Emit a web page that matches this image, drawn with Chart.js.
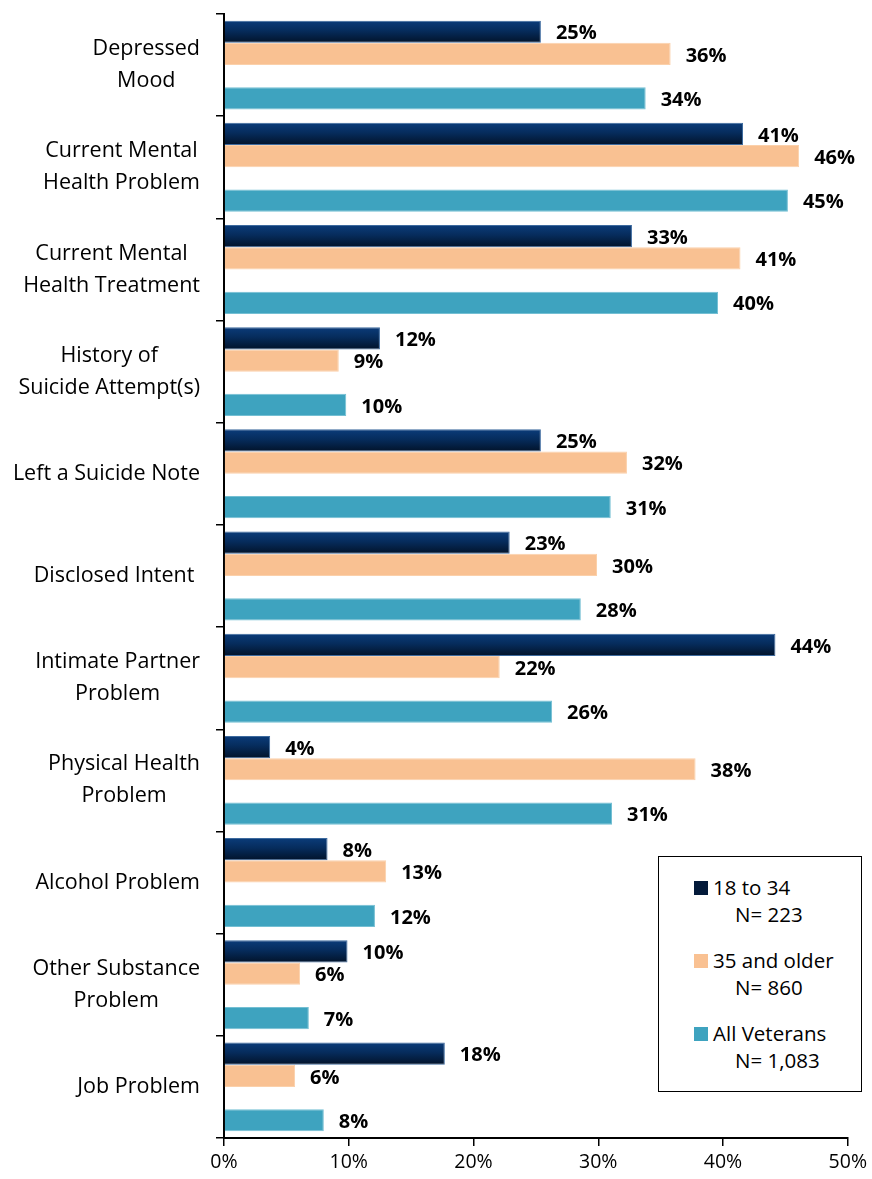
<!DOCTYPE html>
<html>
<head>
<meta charset="utf-8">
<script src="https://cdn.jsdelivr.net/npm/chart.js@4.4.1/dist/chart.umd.min.js"></script>
<style>
  body { margin: 0; background: #fff; }
  #wrap { position: relative; width: 872px; height: 1179px; font-family: 'Open Sans', sans-serif; }
  #legend { position: absolute; left: 658px; top: 856px; width: 202px; height: 234px;
            border: 1.5px solid #000; background: #fff; }
  .item { position: absolute; left: 35px; font-size: 20.5px; line-height: 27px; color: #000; white-space: nowrap; }
  .sw { position: absolute; left: 0; top: 7px; width: 14px; height: 14px; }
  .nm { margin-left: 19px; }
  .n { margin-left: 41px; }
</style>
</head>
<body>
<div id="wrap">
  <canvas id="chart" width="872" height="1179"></canvas>
  <div id="legend"></div>
</div>
<script>
const categories = [
    ['Depressed', 'Mood'],
    ['Current Mental', 'Health Problem'],
    ['Current Mental', 'Health Treatment'],
    ['History of', 'Suicide Attempt(s)'],
    ['Left a Suicide Note'],
    ['Disclosed Intent '],
    ['Intimate Partner', 'Problem'],
    ['Physical Health', 'Problem'],
    ['Alcohol Problem'],
    ['Other Substance', 'Problem'],
    ['Job Problem']
];

const young   = [25.4, 41.6, 32.7, 12.5, 25.4, 22.9, 44.2, 3.7, 8.3, 9.9, 17.7];
const older   = [35.8, 46.1, 41.4, 9.2, 32.3, 29.9, 22.1, 37.8, 13.0, 6.1, 5.7];
const allVets = [33.8, 45.2, 39.6, 9.8, 31.0, 28.6, 26.3, 31.1, 12.1, 6.8, 8.0];

const youngLbl = ['25%', '41%', '33%', '12%', '25%', '23%', '44%', '4%', '8%', '10%', '18%'];
const olderLbl = ['36%', '46%', '41%', '9%', '32%', '30%', '22%', '38%', '13%', '6%', '6%'];
const allLbl   = ['34%', '45%', '40%', '10%', '31%', '28%', '26%', '31%', '12%', '7%', '8%'];

const legendNames = ['18 to 34', '35 and older', 'All Veterans'];
const legendNs    = ['N= 223', 'N= 860', 'N= 1,083'];
const legendColors = ['#031a3a', '#f9c192', '#3ea3bf'];

const catPct = 0.87;
const slots  = 4;

// dark bars get a vertical gradient like the original
function navyGradient(ctx) {
    const chart = ctx.chart;
    const y = chart.scales.y;
    if (!chart.chartArea || !y || ctx.dataIndex === undefined) return '#062a58';
    const band = y.height / categories.length;
    const h    = band * catPct / slots;
    const top  = y.getPixelForValue(ctx.dataIndex) - band * catPct / 2;
    if (!Number.isFinite(top) || !Number.isFinite(h)) return '#062a58';
    const g = chart.ctx.createLinearGradient(0, top, 0, top + h);
    g.addColorStop(0, '#0b3c7a');
    g.addColorStop(0.45, '#062c5c');
    g.addColorStop(1, '#02132a');
    return g;
}

const valueLabels = {
    id: 'valueLabels',
    afterDatasetsDraw(chart) {
        const c = chart.ctx;
        const sets = [[0, youngLbl], [1, olderLbl], [3, allLbl]];
        c.save();
        c.font = 'bold 20px "Open Sans"';
        c.fillStyle = '#000';
        c.textAlign = 'left';
        c.textBaseline = 'middle';
        sets.forEach(([di, lbls]) => {
            chart.getDatasetMeta(di).data.forEach((bar, i) => {
                c.fillText(lbls[i], bar.x + 15, bar.y + 2);
            });
        });
        c.restore();
    }
};

// category labels: block right aligned, lines centred inside the block
const catLabels = {
    id: 'catLabels',
    afterDraw(chart) {
        const c = chart.ctx;
        const y = chart.scales.y;
        const right = 200;
        const lh = 32;
        c.save();
        c.font = '21.5px "Open Sans"';
        c.fillStyle = '#000';
        c.textAlign = 'center';
        c.textBaseline = 'middle';
        categories.forEach((lines, i) => {
            const w = Math.max(...lines.map(l => c.measureText(l).width));
            const cx = right - w / 2;
            const cy = y.getPixelForTick(i);
            lines.forEach((l, k) => {
                c.fillText(l, cx, cy + (k - (lines.length - 1) / 2) * lh);
            });
        });
        c.restore();
    }
};

// legend box
const legend = document.getElementById('legend');
legendNames.forEach((name, i) => {
    const item = document.createElement('div');
    item.className = 'item';
    item.style.top = (17 + i * 73) + 'px';
    item.innerHTML = '<span class="sw" style="background:' + legendColors[i] + '"></span>' +
        '<div class="nm">' + name + '</div><div class="n">' + legendNs[i] + '</div>';
    legend.appendChild(item);
});

new Chart(document.getElementById('chart'), {
    type: 'bar',
    data: {
        labels: categories.map(l => l.join(' ')),
        datasets: [
            { label: legendNames[0], data: young, backgroundColor: navyGradient,
              borderColor: '#3d6a9e', borderWidth: 1 },
            { label: legendNames[1], data: older, backgroundColor: '#f9c192',
              borderColor: '#fbd0aa', borderWidth: 1 },
            { label: '', data: categories.map(() => null), backgroundColor: 'rgba(0,0,0,0)' },
            { label: legendNames[2], data: allVets, backgroundColor: '#3ea3bf',
              borderColor: '#74bfd3', borderWidth: 1 }
        ]
    },
    options: {
        indexAxis: 'y',
        responsive: false,
        animation: false,
        layout: { padding: { top: 14, right: 23, left: 0, bottom: 0 } },
        datasets: { bar: { categoryPercentage: catPct, barPercentage: 1.0 } },
        plugins: { legend: { display: false }, tooltip: { enabled: false } },
        scales: {
            x: {
                min: 0, max: 50,
                ticks: {
                    stepSize: 10,
                    callback: v => v + '%',
                    color: '#000',
                    font: { family: 'Open Sans', size: 19.5 },
                    padding: 5
                },
                grid: { drawOnChartArea: false, drawTicks: true, tickLength: 8, color: '#000', lineWidth: 1.5 },
                border: { display: true, color: '#000', width: 2 },
                afterFit(s) { s.height = 41; }
            },
            y: {
                ticks: { display: false },
                grid: { drawOnChartArea: false, drawTicks: true, tickLength: 8, color: '#000', lineWidth: 1.5, offset: true },
                border: { display: true, color: '#000', width: 2 },
                afterFit(s) { s.width = 224; }
            }
        }
    },
    plugins: [valueLabels, catLabels]
});
</script>
</body>
</html>
